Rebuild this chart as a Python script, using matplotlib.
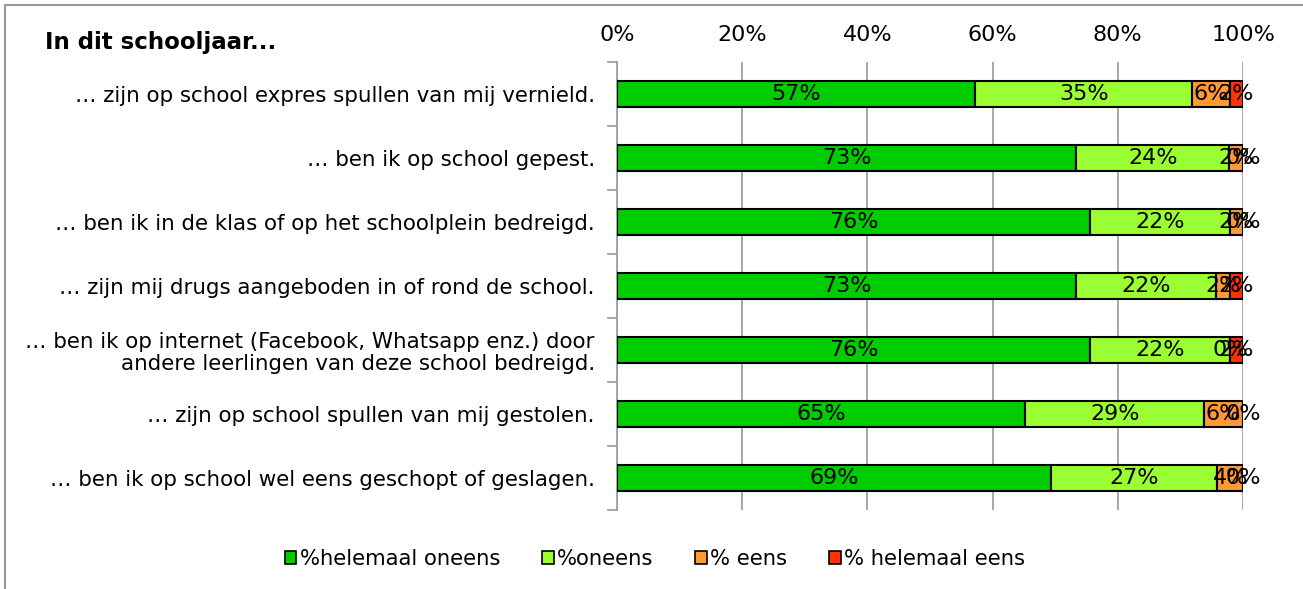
import numpy as np
import matplotlib
matplotlib.use("Agg")
import matplotlib.pyplot as plt
from matplotlib.patches import Rectangle

plt.rcParams['font.family'] = ['DejaVu Sans']

# data (percentages)
categories = [
    "… zijn op school expres spullen van mij vernield.",
    "… ben ik op school gepest.",
    "… ben ik in de klas of op het schoolplein bedreigd.",
    "… zijn mij drugs aangeboden in of rond de school.",
    "… ben ik op internet (Facebook, Whatsapp enz.) door\nandere leerlingen van deze school bedreigd.",
    "… zijn op school spullen van mij gestolen.",
    "… ben ik op school wel eens geschopt of geslagen.",
]
helemaal_oneens = [57.2, 73.4, 75.6, 73.4, 75.6, 65.2, 69.3]
oneens = [34.7, 24.4, 22.3, 22.3, 22.3, 28.6, 26.6]
eens = [6.0, 2.2, 2.1, 2.2, 0.0, 6.2, 4.1]
helemaal_eens = [2.1, 0.0, 0.0, 2.1, 2.1, 0.0, 0.0]

series = [helemaal_oneens, oneens, eens, helemaal_eens]
names = ["%helemaal oneens", "%oneens", "% eens", "% helemaal eens"]
colors = ["#00CC00", "#99FF33", "#FF9933", "#FF3300"]

fig = plt.figure(figsize=(13.03, 5.89), dpi=100)
ax = fig.add_axes([617/1303, 1-510/589, 626/1303, 448/589])

y = np.arange(len(categories))
left = np.zeros(len(categories))
handles = []
for vals, name, col in zip(series, names, colors):
    vals = np.array(vals)
    b = ax.barh(y, vals, left=left, height=0.4, color=col, edgecolor="black",
                linewidth=1.5, label=name, zorder=3)
    handles.append(b)
    for yi, (l, v) in enumerate(zip(left, vals)):
        ax.text(l + v/2, yi, "%.0f%%" % v, ha="center", va="center",
                fontsize=16, zorder=4)
    left = left + vals

ax.set_xlim(0, 100)
ax.set_ylim(len(categories) - 0.5, -0.5)
ax.xaxis.tick_top()
ax.set_xticks(np.arange(0, 101, 20))
ax.set_xticklabels(["%d%%" % t for t in range(0, 101, 20)], fontsize=16)
ax.tick_params(axis="x", length=0, pad=12)
ax.grid(axis="x", color="#999999", linewidth=1.2, zorder=0)

ax.set_yticks(y)
ax.set_yticklabels(categories, fontsize=15.4, linespacing=1.1)
ax.tick_params(axis="y", length=0, pad=16)
ax.set_yticks(np.arange(-0.5, len(categories)), minor=True)
ax.tick_params(axis="y", which="minor", length=7, color="#999999", width=1.2)

for s in ["top", "right", "bottom"]:
    ax.spines[s].set_visible(False)
ax.spines["left"].set_color("#999999")
ax.spines["left"].set_linewidth(1.2)

fig.text(45/1303, 1-42/589, "In dit schooljaar...", fontsize=16.5, fontweight="bold",
         va="center", ha="left")

leg = fig.legend(handles=handles, labels=names, loc="center", ncol=4,
                 bbox_to_anchor=(655/1303, 1-559/589), frameon=False, fontsize=15.2,
                 handlelength=0.55, handleheight=0.55, handletextpad=0.15,
                 columnspacing=2.0)
for h in leg.legend_handles:
    h.set_linewidth(1.2)

fig.patches.append(Rectangle((5/1303, -0.1), 1.2, 1.1 - 5/589, transform=fig.transFigure,
                             fill=False, edgecolor="#999999", linewidth=1.5))

fig.savefig("out.png", dpi=100)
